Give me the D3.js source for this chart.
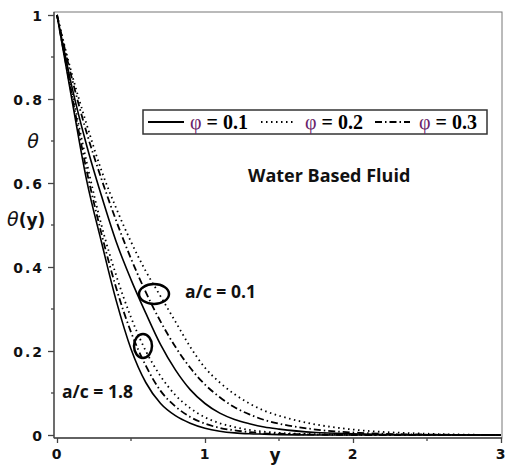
<!DOCTYPE html>
<html>
<head>
<meta charset="utf-8">
<script src="https://cdn.jsdelivr.net/npm/d3@7"></script>
<style>
  body { margin: 0; background: #fff; }
  svg { display: block; }
  .tick-label { font-family: "DejaVu Sans", sans-serif; font-weight: bold; font-size: 14px; fill: #111; letter-spacing: 2px; }
  .note { font-family: "Open Sans", sans-serif; font-weight: bold; fill: #111; }
  .legend-text { font-family: "Liberation Serif", serif; font-weight: bold; font-size: 20px; fill: #000; }
</style>
</head>
<body>
<div id="chart"></div>
<script>
const yValues = [0, 0.1, 0.2, 0.3, 0.4, 0.5, 0.6, 0.7, 0.8, 0.9, 1.0, 1.1, 1.2, 1.3, 1.4, 1.5, 1.75, 2, 2.5, 3];

// a/c = 1.8
const phi1_ac18 = [1, 0.80, 0.607, 0.46, 0.32, 0.205, 0.125, 0.075, 0.046, 0.028, 0.016, 0.009, 0.005, 0.003, 0.002, 0.001, 0, 0, 0, 0];
const phi2_ac18 = [1, 0.82, 0.65, 0.50, 0.38, 0.28, 0.20, 0.14, 0.095, 0.064, 0.042, 0.028, 0.019, 0.012, 0.008, 0.005, 0.002, 0.001, 0, 0];
const phi3_ac18 = [1, 0.81, 0.63, 0.48, 0.35, 0.245, 0.165, 0.105, 0.068, 0.043, 0.027, 0.017, 0.011, 0.007, 0.004, 0.003, 0.001, 0, 0, 0];
// a/c = 0.1
const phi1_ac01 = [1, 0.83, 0.69, 0.57, 0.46, 0.37, 0.29, 0.215, 0.155, 0.108, 0.075, 0.052, 0.037, 0.027, 0.019, 0.014, 0.006, 0.003, 0.0005, 0];
const phi2_ac01 = [1, 0.86, 0.74, 0.63, 0.54, 0.46, 0.39, 0.33, 0.27, 0.21, 0.16, 0.125, 0.097, 0.075, 0.058, 0.046, 0.025, 0.013, 0.003, 0];
const phi3_ac01 = [1, 0.85, 0.72, 0.61, 0.51, 0.42, 0.34, 0.27, 0.21, 0.16, 0.12, 0.09, 0.066, 0.049, 0.036, 0.027, 0.013, 0.006, 0.001, 0];

const phiLabels = ["0.1", "0.2", "0.3"];
const yTicks = [0, 0.2, 0.4, 0.6, 0.8, 1];
const xTicks = [0, 1, 2, 3];

const width = 508;
const height = 468;
const frame = { left: 54, right: 502, top: 12, bottom: 438 };

const x = d3.scaleLinear().domain([0, 3]).range([57, 501]);
const y = d3.scaleLinear().domain([0, 1]).range([435, 15]);

const dashes = { solid: null, dotted: "1.5,3.5", dashdot: "7,3,1.5,3" };

const series = [
  { values: phi1_ac18, style: "solid" },
  { values: phi2_ac18, style: "dotted" },
  { values: phi3_ac18, style: "dashdot" },
  { values: phi1_ac01, style: "solid" },
  { values: phi2_ac01, style: "dotted" },
  { values: phi3_ac01, style: "dashdot" },
];

const svg = d3.select("#chart").append("svg")
  .attr("width", width)
  .attr("height", height);

// frame
svg.append("rect")
  .attr("x", frame.left)
  .attr("y", frame.top)
  .attr("width", frame.right - frame.left)
  .attr("height", frame.bottom - frame.top)
  .attr("fill", "none")
  .attr("stroke", "#777")
  .attr("stroke-width", 1);

// curves
const line = d3.line()
  .x((d, i) => x(yValues[i]))
  .y((d) => y(d))
  .curve(d3.curveMonotoneX);

svg.append("g")
  .selectAll("path")
  .data(series)
  .join("path")
  .attr("d", (d) => line(d.values))
  .attr("fill", "none")
  .attr("stroke", "#000")
  .attr("stroke-width", (d) => (d.style === "solid" ? 1.6 : 1.8))
  .attr("stroke-dasharray", (d) => dashes[d.style]);

// y axis
const yAxisG = svg.append("g")
  .attr("transform", `translate(${frame.left},0)`)
  .call(d3.axisLeft(y).tickValues(yTicks).tickSize(6).tickFormat(d3.format("~g")));
yAxisG.select(".domain").attr("stroke", "#444").attr("stroke-width", 1.3).attr("d", `M0,${frame.top}V${frame.bottom}`);
yAxisG.selectAll(".tick line").attr("stroke", "#444").attr("stroke-width", 1.3);
yAxisG.selectAll(".tick text").attr("class", "tick-label").attr("x", -10).attr("dy", "0.36em");
yAxisG.append("g")
  .selectAll("line")
  .data([0.1, 0.3, 0.5, 0.7, 0.9])
  .join("line")
  .attr("x1", -3).attr("x2", 0)
  .attr("y1", (d) => y(d)).attr("y2", (d) => y(d))
  .attr("stroke", "#444").attr("stroke-width", 1.3);

// x axis
const xAxisG = svg.append("g")
  .attr("transform", `translate(0,${frame.bottom})`)
  .call(d3.axisBottom(x).tickValues(xTicks).tickSize(5).tickFormat(d3.format("d")));
xAxisG.select(".domain").attr("stroke", "#444").attr("stroke-width", 1.3).attr("d", `M${frame.left},0H${frame.right}`);
xAxisG.selectAll(".tick line").attr("stroke", "#444").attr("stroke-width", 1.3);
xAxisG.selectAll(".tick text").attr("class", "tick-label").attr("y", 11).attr("dy", "0.71em");
xAxisG.append("g")
  .selectAll("line")
  .data([0.5, 1.5, 2.5])
  .join("line")
  .attr("x1", (d) => x(d)).attr("x2", (d) => x(d))
  .attr("y1", 0).attr("y2", 3)
  .attr("stroke", "#444").attr("stroke-width", 1.3);

// axis titles
svg.append("text")
  .attr("x", 33).attr("y", 148)
  .attr("text-anchor", "middle")
  .attr("font-family", "DejaVu Sans, sans-serif")
  .attr("font-style", "italic")
  .attr("font-size", 19)
  .attr("fill", "#111")
  .text("θ");

const thetaY = svg.append("text")
  .attr("x", 7).attr("y", 226)
  .attr("font-family", "DejaVu Sans, sans-serif")
  .attr("font-size", 19)
  .attr("fill", "#111");
thetaY.append("tspan").attr("font-style", "italic").text("θ");
thetaY.append("tspan").attr("font-weight", "bold").attr("font-size", 17).text("(y)");

svg.append("text")
  .attr("x", 275).attr("y", 461)
  .attr("text-anchor", "middle")
  .attr("font-family", "DejaVu Sans, sans-serif")
  .attr("font-weight", "bold")
  .attr("font-size", 17)
  .attr("fill", "#111")
  .text("y");

// legend
const legend = svg.append("g");
legend.append("rect")
  .attr("x", 143).attr("y", 110)
  .attr("width", 344).attr("height", 24)
  .attr("fill", "#fff")
  .attr("stroke", "#333")
  .attr("stroke-width", 1.5);

const legendItems = [
  { style: "solid", x0: 148, x1: 184, tx: 190 },
  { style: "dotted", x0: 261, x1: 293, tx: 305 },
  { style: "dashdot", x0: 375, x1: 410, tx: 419 },
];
legendItems.forEach((d, i) => {
  legend.append("line")
    .attr("x1", d.x0).attr("x2", d.x1)
    .attr("y1", 122).attr("y2", 122)
    .attr("stroke", "#000")
    .attr("stroke-width", 2.2)
    .attr("stroke-dasharray", dashes[d.style]);
  const t = legend.append("text")
    .attr("class", "legend-text")
    .attr("x", d.tx).attr("y", 129);
  t.append("tspan").attr("fill", "#6a1f6a").attr("font-weight", "normal").text("φ");
  t.append("tspan").text(" = " + phiLabels[i]);
});

// annotations
svg.append("text")
  .attr("class", "note")
  .attr("x", 248).attr("y", 182)
  .attr("font-size", 18)
  .text("Water Based Fluid");

svg.append("text")
  .attr("class", "note")
  .attr("x", 185).attr("y", 298)
  .attr("font-size", 17.5)
  .text("a/c = 0.1");

svg.append("text")
  .attr("class", "note")
  .attr("x", 62).attr("y", 398)
  .attr("font-size", 17.5)
  .text("a/c = 1.8");

svg.append("ellipse")
  .attr("cx", 154).attr("cy", 294)
  .attr("rx", 15).attr("ry", 10)
  .attr("fill", "none").attr("stroke", "#000").attr("stroke-width", 2.5);

svg.append("ellipse")
  .attr("cx", 143).attr("cy", 346)
  .attr("rx", 9).attr("ry", 12)
  .attr("fill", "none").attr("stroke", "#000").attr("stroke-width", 2.5);
</script>
</body>
</html>
